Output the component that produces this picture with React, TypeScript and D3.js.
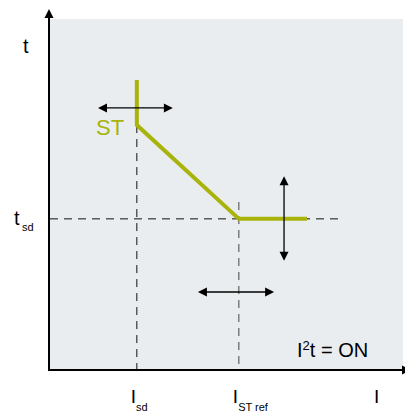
import React from "react";
import * as d3 from "d3";

// Conceptual coordinates (0..100) for current I (x) and time t (y)
const curveI = [24.6, 24.6, 53.5, 72.8];
const curveT = [82.6, 69.7, 42.9, 42.9];
const tsd = 42.9;
const Isd = 24.6;
const ISTref = 53.5;
const dashEndI = 83;
const dashTopISTref = 47.7;
const arrowsH = [
  { i0: 13.6, i1: 34.8, t: 74.6 },
  { i0: 41.9, i1: 63.5, t: 22 },
];
const arrowsV = [{ i: 66.3, t0: 30.9, t1: 55.1 }];
const xTickLabels = [
  { i: Isd, main: "I", sub: "sd" },
  { i: ISTref, main: "I", sub: "ST ref" },
];

const W = 405;
const H = 414;
const left = 50;
const right = 403;
const top = 19;
const bottom = 369;

export default function App() {
  const x = d3.scaleLinear().domain([0, 100]).range([left, right]);
  const y = d3.scaleLinear().domain([0, 100]).range([bottom, top]);
  const line = d3
    .line<number>()
    .x((_, k) => x(curveI[k]))
    .y((_, k) => y(curveT[k]));
  const olive = "#a8b40a";
  const font = "Liberation Sans, Arial, sans-serif";

  const arrowHead = (px: number, py: number, dir: "l" | "r" | "u" | "d", key: string) => {
    const L = 9, hw = 4.5;
    let pts: [number, number][] = [];
    if (dir === "l") pts = [[px, py], [px + L, py - hw], [px + L, py + hw]];
    if (dir === "r") pts = [[px, py], [px - L, py - hw], [px - L, py + hw]];
    if (dir === "u") pts = [[px, py], [px - hw, py + L], [px + hw, py + L]];
    if (dir === "d") pts = [[px, py], [px - hw, py - L], [px + hw, py - L]];
    return <polygon key={key} points={pts.map((p) => p.join(",")).join(" ")} fill="#000" />;
  };

  return (
    <svg width={W} height={H} style={{ position: "absolute", left: 0, top: 0 }}>
      <rect x={left} y={top} width={right - left} height={bottom - top} fill="#e9edf0" />
      {/* dashed guides */}
      <line x1={x(0)} x2={x(dashEndI)} y1={y(tsd)} y2={y(tsd)} stroke="#111" strokeWidth={1} strokeDasharray="8,6" />
      <line x1={x(Isd)} x2={x(Isd)} y1={y(curveT[1])} y2={bottom} stroke="#111" strokeWidth={1} strokeDasharray="8,6" />
      <line x1={x(ISTref)} x2={x(ISTref)} y1={y(dashTopISTref)} y2={bottom} stroke="#444" strokeWidth={1} strokeDasharray="8,6" />
      {/* curve */}
      <path d={line(curveI) || ""} fill="none" stroke={olive} strokeWidth={4} strokeLinejoin="miter" />
      {/* arrows */}
      {arrowsH.map((a, k) => (
        <g key={"h" + k}>
          <line x1={x(a.i0) + 4} x2={x(a.i1) - 4} y1={y(a.t)} y2={y(a.t)} stroke="#000" strokeWidth={1.3} />
          {arrowHead(x(a.i0), y(a.t), "l", "hl" + k)}
          {arrowHead(x(a.i1), y(a.t), "r", "hr" + k)}
        </g>
      ))}
      {arrowsV.map((a, k) => (
        <g key={"v" + k}>
          <line x1={x(a.i)} x2={x(a.i)} y1={y(a.t1) + 4} y2={y(a.t0) - 4} stroke="#000" strokeWidth={1.3} />
          {arrowHead(x(a.i), y(a.t1), "u", "vu" + k)}
          {arrowHead(x(a.i), y(a.t0), "d", "vd" + k)}
        </g>
      ))}
      {/* axes */}
      <line x1={49} x2={49} y1={15} y2={bottom + 1.5} stroke="#000" strokeWidth={2} />
      {arrowHead(49, 9, "u", "yax")}
      <line x1={48} x2={405} y1={bottom + 1} y2={bottom + 1} stroke="#000" strokeWidth={2} />
      {arrowHead(411, bottom + 1, "r", "xax")}
      {/* texts */}
      <text x={96} y={135} fill={olive} fontFamily={font} fontSize={22}>ST</text>
      <text x={23} y={53} fontFamily={font} fontSize={20}>t</text>
      <text x={374} y={403} fontFamily={font} fontSize={19}>I</text>
      <text x={14} y={225} fontFamily={font} fontSize={20}>t</text>
      <text x={22} y={231} fontFamily={font} fontSize={11}>sd</text>
      {xTickLabels.map((t, k) => (
        <text key={k} x={x(t.i) - 6} y={403} fontFamily={font} fontSize={19}>
          {t.main}
          <tspan fontSize={11} dy={8}>{t.sub}</tspan>
        </text>
      ))}
      <text x={297} y={357} fontFamily={font} fontSize={20}>
        I<tspan fontSize={13} dy={-7}>2</tspan>
        <tspan dy={7}>t = ON</tspan>
      </text>
    </svg>
  );
}
